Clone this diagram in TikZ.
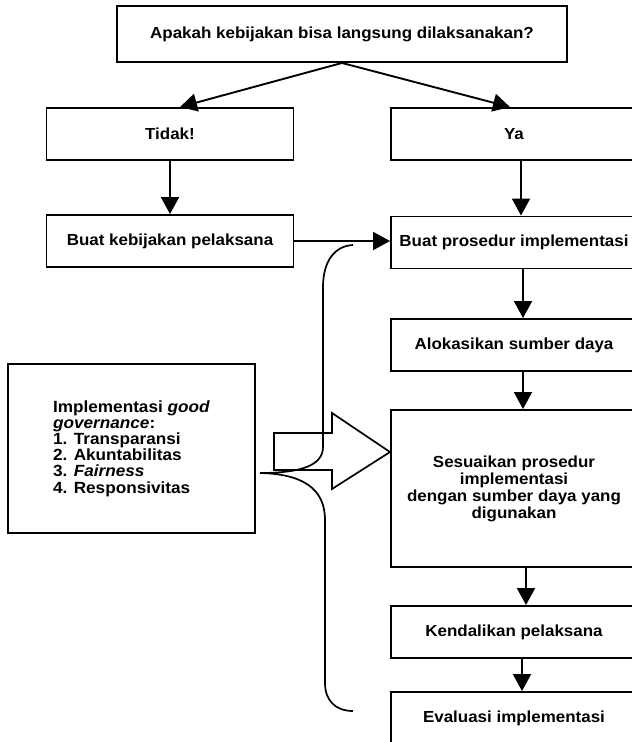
\documentclass[tikz,border=0pt]{standalone}
\usepackage{fontspec}
\setmainfont{Liberation Sans}[FakeStretch=1.06]
\usetikzlibrary{arrows.meta}
\begin{document}
\begin{tikzpicture}[x=1pt,y=-1pt,
  box/.style={draw, line width=1.9pt, inner sep=2pt, align=center,
    font=\bfseries\fontsize{16}{17}\selectfont},
  lbox/.style={box, minimum width=247pt, minimum height=52pt},
  rbox/.style={box, minimum width=246pt, minimum height=52pt},
  arr/.style={line width=1.9pt, -{Triangle[length=17pt,width=18pt]}},
  thinline/.style={line width=1.7pt}
]
\useasboundingbox (0,0) rectangle (632,742);
\clip (0,0) rectangle (632,742);

\node[box, minimum width=450pt, minimum height=56pt] (q) at (342,34) {Apakah kebijakan bisa langsung dilaksanakan?};
\node[lbox] (tidak) at (170,134) {Tidak!};
\node[rbox] (ya) at (514,134) {Ya};
\node[lbox] (bk) at (170,241) {Buat kebijakan pelaksana};
\node[rbox] (bp) at (514,242.5) {Buat prosedur implementasi};
\node[rbox] (alok) at (514,345) {Alokasikan sumber daya};
\node[rbox, minimum height=157pt] (sesu) at (514,488.5) {Sesuaikan prosedur\\implementasi\\dengan sumber daya yang\\digunakan};
\node[rbox] (kend) at (514,632) {Kendalikan pelaksana};
\node[rbox] (eval) at (514,718) {Evaluasi implementasi};
\node[box, align=left, minimum width=247pt, minimum height=169pt,
  font=\bfseries\fontsize{16.2}{16.2}\selectfont] (gg) at (131.5,448.5)
  {Implementasi \textit{good}\\\textit{governance}:\\1. Transparansi\\2. Akuntabilitas\\3. \textit{Fairness}\\4. Responsivitas};

\draw[arr] (q.south) -- ([xshift=10pt]tidak.north);
\draw[arr] (q.south) -- ([xshift=-4pt]ya.north);
\draw[arr] (tidak) -- (bk);
\draw[arr] ([xshift=7pt]ya.south) -- ([xshift=7pt]bp.north);
\draw[arr] (bk.east) -- (bk.east -| bp.west);
\draw[arr] ([xshift=9pt]bp.south) -- ([xshift=9pt]alok.north);
\draw[arr] ([xshift=9pt]alok.south) -- ([xshift=9pt]sesu.north);
\draw[arr] ([xshift=12pt]sesu.south) -- ([xshift=12pt]kend.north);
\draw[arr] ([xshift=8pt]kend.south) -- ([xshift=8pt]eval.north);

% hollow block arrow
\draw[thinline, line join=miter] (274,433) -- (332,433) -- (332,413) -- (390,452)
  -- (332,489) -- (332,470) -- (274,470) -- cycle;

% curly brace
\draw[thinline] (353,245) .. controls (334,246) and (323,262) .. (323,287)
  -- (323,447) .. controls (323,465) and (302,473) .. (260,473)
  .. controls (302,474) and (325,488) .. (325,520)
  -- (325,683) .. controls (325,700) and (335,711) .. (353,711);
\end{tikzpicture}
\end{document}
